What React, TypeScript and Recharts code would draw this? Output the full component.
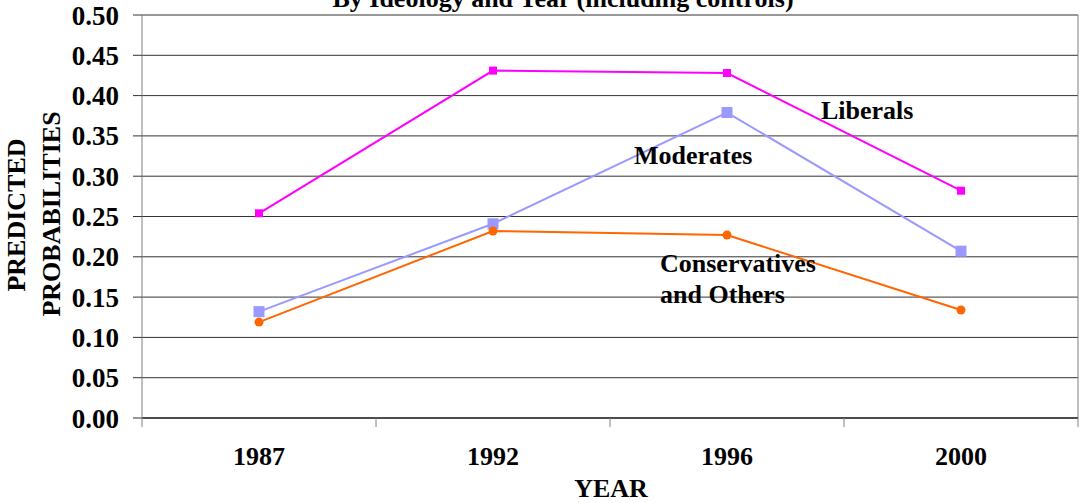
import React from 'react';
import { LineChart, Line, XAxis, YAxis, CartesianGrid } from 'recharts';

const years = ['1987', '1992', '1996', '2000'];
const liberals = [0.254, 0.431, 0.428, 0.282];
const moderates = [0.132, 0.241, 0.379, 0.207];
const conservatives = [0.119, 0.232, 0.227, 0.134];
const yTicks = [0, 0.05, 0.1, 0.15, 0.2, 0.25, 0.3, 0.35, 0.4, 0.45, 0.5];

const data = years.map((year, i) => ({
  year,
  liberals: liberals[i],
  moderates: moderates[i],
  conservatives: conservatives[i],
}));

const W = 1082;
const H = 503;
const LEFT = 142;
const RIGHT = 4;
const BAND = (W - LEFT - RIGHT) / years.length;
const FONT = "'Liberation Serif', 'Times New Roman', serif";

const XTick = (props: any) => {
  const { x, y, payload, index } = props;
  return (
    <g>
      <text x={x} y={y + 47} textAnchor="middle" fontSize={26} fontWeight="bold" fill="#000" fontFamily={FONT}>
        {payload.value}
      </text>
      <line x1={x + BAND / 2} y1={y} x2={x + BAND / 2} y2={y + 9} stroke="#808080" />
      {index === 0 && <line x1={x - BAND / 2} y1={y} x2={x - BAND / 2} y2={y + 9} stroke="#808080" />}
    </g>
  );
};

const squareDot = (size: number, color: string) => (props: any) => {
  const { cx, cy, index } = props;
  return <rect key={`sq-${color}-${index}`} x={cx - size / 2} y={cy - size / 2} width={size} height={size} fill={color} />;
};

const circleDot = (r: number, color: string) => (props: any) => {
  const { cx, cy, index } = props;
  return <circle key={`c-${color}-${index}`} cx={cx} cy={cy} r={r} fill={color} />;
};

const textStyle = { fontFamily: FONT, fontWeight: 'bold' as const, fontSize: 26, fill: '#000' };

export default function App() {
  return (
    <div style={{ position: 'absolute', left: 0, top: 0, width: W, height: H, background: '#fff', fontFamily: FONT }}>
      <style>{`svg text { font-family: 'Liberation Serif', 'Times New Roman', serif !important; font-weight: bold; }`}</style>
      <LineChart width={W} height={H} data={data} margin={{ top: 15, right: RIGHT, bottom: 0, left: 0 }}>
        <CartesianGrid vertical={false} stroke="#333" />
        <CartesianGrid
          horizontal={false}
          stroke="#808080"
          verticalCoordinatesGenerator={({ offset }: any) => [offset.left + offset.width]}
        />
        <XAxis
          dataKey="year"
          scale="band"
          height={85}
          axisLine={{ stroke: '#000' }}
          tickLine={false}
          tickSize={0}
          tickMargin={0}
          tick={<XTick />}
          interval={0}
        />
        <YAxis
          width={LEFT}
          domain={[0, 0.5]}
          ticks={yTicks}
          interval={0}
          tickFormatter={(v: number) => v.toFixed(2)}
          tickSize={9}
          tickMargin={14}
          axisLine={{ stroke: '#808080' }}
          tickLine={{ stroke: '#333' }}
          tick={{ fontSize: 27, fontWeight: 'bold', fill: '#000', fontFamily: FONT }}
        />
        <Line
          dataKey="liberals"
          stroke="#FF00FF"
          strokeWidth={2}
          dot={squareDot(8, '#FF00FF')}
          activeDot={false}
          isAnimationActive={false}
        />
        <Line
          dataKey="moderates"
          stroke="#9999FF"
          strokeWidth={2}
          dot={squareDot(11, '#9999FF')}
          activeDot={false}
          isAnimationActive={false}
        />
        <Line
          dataKey="conservatives"
          stroke="#FF6600"
          strokeWidth={2}
          dot={circleDot(4.5, '#FF6600')}
          activeDot={false}
          isAnimationActive={false}
        />
      </LineChart>
      <svg width={W} height={H} style={{ position: 'absolute', left: 0, top: 0, pointerEvents: 'none' }}>
        <text x={563} y={7} textAnchor="middle" style={textStyle}>
          By Ideology and Year (including controls)
        </text>
        <text x={821} y={119} style={textStyle}>Liberals</text>
        <text x={634} y={164} style={textStyle}>Moderates</text>
        <text x={660} y={272} style={textStyle}>Conservatives</text>
        <text x={660} y={303} style={textStyle}>and Others</text>
        <text x={611} y={497} textAnchor="middle" style={textStyle}>YEAR</text>
        <text transform="translate(25,215) rotate(-90)" textAnchor="middle" style={textStyle}>PREDICTED</text>
        <text transform="translate(60,214) rotate(-90)" textAnchor="middle" style={textStyle}>PROBABILITIES</text>
      </svg>
    </div>
  );
}
